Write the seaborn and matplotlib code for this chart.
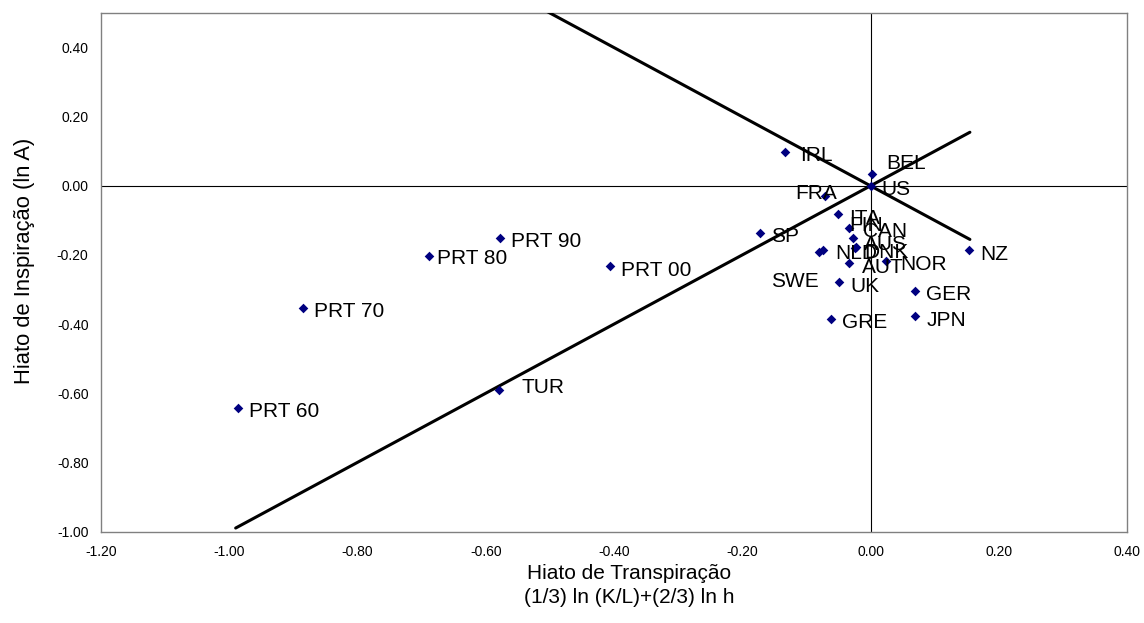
import matplotlib
matplotlib.use("Agg")
import matplotlib.pyplot as plt
import seaborn as sns
import pandas as pd

# ---- data ----
countries = ["PRT 60", "PRT 70", "PRT 80", "PRT 90", "PRT 00", "TUR",
             "IRL", "BEL", "US", "FRA", "ITA", "FIN", "CAN", "SP",
             "SWE", "NLD", "DNK", "AUS", "AUT", "NOR", "UK", "GER",
             "JPN", "GRE", "NZ"]
transpiration = [-0.987, -0.885, -0.688, -0.577, -0.407, -0.579,
                 -0.134, 0.002, 0.000, -0.071, -0.050, -0.033, -0.028, -0.172,
                 -0.081, -0.074, -0.024, -0.022, -0.033, 0.024, -0.049, 0.070,
                 0.070, -0.062, 0.154]
inspiration = [-0.642, -0.352, -0.203, -0.150, -0.232, -0.591,
               0.099, 0.033, 0.000, -0.029, -0.082, -0.121, -0.150, -0.136,
               -0.191, -0.186, -0.179, -0.176, -0.222, -0.217, -0.279, -0.304,
               -0.377, -0.385, -0.186]
line_x = [-0.99, 0.155]
line_up_y = [-0.99, 0.155]
line_down_y = [0.99, -0.155]

x_ticks = [-1.2, -1.0, -0.8, -0.6, -0.4, -0.2, 0.0, 0.2, 0.4]
y_ticks = [-1.0, -0.8, -0.6, -0.4, -0.2, 0.0, 0.2, 0.4]

df = pd.DataFrame({"country": countries, "x": transpiration, "y": inspiration})
lines = pd.DataFrame({"x": line_x + line_x,
                      "y": line_up_y + line_down_y,
                      "which": ["up", "up", "down", "down"]})

# ---- style ----
sns.set_theme(style="white")
plt.rcParams["font.family"] = ["Liberation Sans", "DejaVu Sans"]

fig = plt.figure(figsize=(11.44, 6.23), dpi=100)
ax = fig.add_axes([101 / 1144, 1 - 531.5 / 623, 1026 / 1144, 518.5 / 623])

ax.axhline(0, color="#000000", lw=0.8, zorder=1)
ax.axvline(0, color="#000000", lw=0.8, zorder=1)

sns.lineplot(data=lines, x="x", y="y", units="which", estimator=None,
             color="black", lw=2.2, ax=ax, zorder=3, sort=False)
sns.scatterplot(data=df, x="x", y="y", marker="D", color="#000080",
                s=24, edgecolor="#000080", linewidth=0, ax=ax, zorder=4)

# label offsets in pixels (dx right, dy down)
default_off = (11, 4)
special = {
    "FRA": (-30, -2),
    "BEL": (14, -11),
    "SWE": (-48, 30),
    "FIN": (0, -2),
    "CAN": (10, -6),
    "NLD": (12, 3),
    "DNK": (9, 5),
    "AUS": (8, -2),
    "AUT": (13, 5),
    "NOR": (14, 4),
    "TUR": (22, -3),
    "PRT 80": (8, 2),
    "IRL": (16, 4),
}
for c, xv, yv in zip(countries, transpiration, inspiration):
    dx, dy = special.get(c, default_off)
    ax.annotate(c, (xv, yv), xytext=(dx * 0.72, -dy * 0.72),
                textcoords="offset points", ha="left", va="center",
                fontsize=15, color="black", zorder=5)

ax.set_xlim(-1.2, 0.4)
ax.set_ylim(-1.0, 0.5)
ax.set_xticks(x_ticks)
ax.set_yticks(y_ticks)
ax.set_xticklabels([f"{v:.2f}" for v in x_ticks])
ax.set_yticklabels([f"{v:.2f}" for v in y_ticks])
ax.tick_params(axis="both", length=0, labelsize=10, colors="black")
ax.tick_params(axis="x", pad=10)
ax.tick_params(axis="y", pad=9)

for sp in ax.spines.values():
    sp.set_color("#808080")
    sp.set_linewidth(1.0)
    sp.set_visible(True)

ax.set_xlabel("Hiato de Transpiração\n(1/3) ln (K/L)+(2/3) ln h",
              fontsize=15, color="black", linespacing=1.3, labelpad=8)
ax.xaxis.set_label_coords(0.5146, -0.063, transform=ax.transAxes)
ax.xaxis.label.set_va("top")
ax.set_ylabel("Hiato de Inspiração (ln A)", fontsize=15.8, color="black")
ax.yaxis.set_label_coords(-0.064, 0.522)
ax.grid(False)

fig.savefig("out.png", dpi=100)
